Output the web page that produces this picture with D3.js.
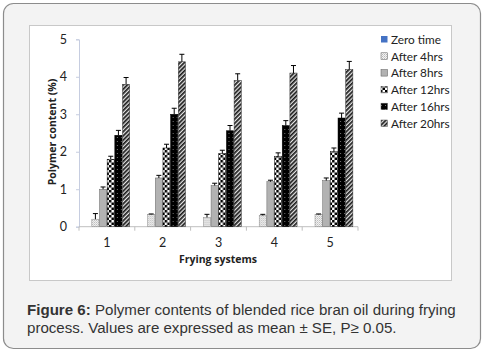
<!DOCTYPE html>
<html><head><meta charset="utf-8">
<script src="https://cdn.jsdelivr.net/npm/d3@7/dist/d3.min.js"></script>
<style>body{margin:0;background:#fff}svg{display:block}</style>
</head><body>
<svg id="c" width="490" height="356"></svg>
<script>
const categories = ["1","2","3","4","5"];
const seriesNames = ["Zero time","After 4hrs","After 8hrs","After 12hrs","After 16hrs","After 20hrs"];
const zeroTime  = [0,0,0,0,0];
const after4    = [0.20,0.33,0.25,0.30,0.33];
const after8    = [1.00,1.30,1.10,1.20,1.23];
const after12   = [1.80,2.10,1.95,1.88,2.00];
const after16   = [2.44,3.00,2.56,2.70,2.90];
const after20   = [3.80,4.40,3.90,4.10,4.20];
const err4      = [0.15,0.01,0.08,0.03,0.01];
const err8      = [0.06,0.07,0.06,0.04,0.07];
const err12     = [0.08,0.10,0.09,0.09,0.10];
const err16     = [0.13,0.16,0.14,0.13,0.13];
const err20     = [0.18,0.20,0.18,0.20,0.21];
const yTicks = [0,1,2,3,4,5];

const values = [zeroTime, after4, after8, after12, after16, after20];
const errors = [null, err4, err8, err12, err16, err20];
const fills = ["#4472c4","url(#p4)","url(#p8)","url(#p12)","url(#p16)","url(#p20)"];
const strokes = ["none","#888","#666","#000","#000","#333"];

const svg = d3.select("#c");
const defs = svg.append("defs");
let p = defs.append("pattern").attr("id","p4").attr("width",2).attr("height",2).attr("patternUnits","userSpaceOnUse");
p.append("rect").attr("width",2).attr("height",2).attr("fill","#f4f4f4");
p.append("rect").attr("width",1).attr("height",1).attr("fill","#b8b8b8");
p.append("rect").attr("x",1).attr("y",1).attr("width",1).attr("height",1).attr("fill","#d0d0d0");
p = defs.append("pattern").attr("id","p8").attr("width",4).attr("height",4).attr("patternUnits","userSpaceOnUse");
p.append("rect").attr("width",4).attr("height",4).attr("fill","#b2b2b2");
p = defs.append("pattern").attr("id","p12").attr("width",5).attr("height",5).attr("patternUnits","userSpaceOnUse");
p.append("rect").attr("width",5).attr("height",5).attr("fill","#fff");
p.append("rect").attr("width",2.5).attr("height",2.5).attr("fill","#000");
p.append("rect").attr("x",2.5).attr("y",2.5).attr("width",2.5).attr("height",2.5).attr("fill","#000");
p = defs.append("pattern").attr("id","p16").attr("width",4).attr("height",4).attr("patternUnits","userSpaceOnUse");
p.append("rect").attr("width",4).attr("height",4).attr("fill","#000");
p.append("rect").attr("x",1).attr("y",1).attr("width",1).attr("height",1).attr("fill","#777");
p = defs.append("pattern").attr("id","p20").attr("width",3).attr("height",3).attr("patternUnits","userSpaceOnUse").attr("patternTransform","rotate(45)");
p.append("rect").attr("width",3).attr("height",3).attr("fill","#e6e6e6");
p.append("rect").attr("width",1.7).attr("height",3).attr("fill","#1a1a1a");

svg.append("rect").attr("x",3.5).attr("y",3.5).attr("width",477).attr("height",345).attr("rx",10)
  .attr("fill","#f3f3f3").attr("stroke","#8c8c8c").attr("stroke-width",1.2);
svg.append("rect").attr("x",29.5).attr("y",25.5).attr("width",422).attr("height",255)
  .attr("fill","#fff").attr("stroke","#c8c8c8").attr("stroke-width",1);

const x0 = d3.scaleBand().domain(categories).range([79,358]).paddingInner(0.175).paddingOuter(0.0875);
const x1 = d3.scaleBand().domain(seriesNames).range([0,x0.bandwidth()]);
const y = d3.scaleLinear().domain([0,5]).range([226.7,39.3]);

const yAxis = d3.axisLeft(y).tickValues(yTicks).tickFormat(d3.format("d")).tickSize(3).tickPadding(9);
const gy = svg.append("g").attr("transform","translate(79,0)").call(yAxis);
gy.select(".domain").attr("stroke","#c6cde0");
gy.selectAll(".tick line").attr("stroke","#c6cde0");
gy.selectAll("text").attr("font-family","Lato, 'Open Sans', sans-serif").attr("font-size",12.5).attr("fill","#222");

const gx = svg.append("g").attr("transform",`translate(0,${y(0)})`);
gx.append("line").attr("x1",79).attr("x2",358).attr("stroke","#bfbfbf");
const step = x0.step();
gx.selectAll("line.tk").data(d3.range(categories.length+1)).join("line").attr("class","tk")
  .attr("x1",i=>79+i*step).attr("x2",i=>79+i*step).attr("y1",0).attr("y2",4).attr("stroke","#bfbfbf");
gx.selectAll("text").data(categories).join("text")
  .attr("x",d=>x0(d)+x0.bandwidth()/2).attr("y",20).attr("text-anchor","middle")
  .attr("font-family","Lato, 'Open Sans', sans-serif").attr("font-size",12.5).attr("fill","#222").text(d=>d);

categories.forEach((c,ci)=>{
  const g = svg.append("g").attr("transform",`translate(${x0(c)},0)`);
  seriesNames.forEach((s,si)=>{
    const v = values[si][ci];
    if (v <= 0) return;
    g.append("rect").attr("x",x1(s)+0.25).attr("width",x1.bandwidth()-0.5)
      .attr("y",y(v)).attr("height",y(0)-y(v))
      .attr("fill",fills[si]).attr("stroke",strokes[si]).attr("stroke-width",0.5);
    if (errors[si]) {
      const e = v + errors[si][ci];
      const cx = x1(s)+x1.bandwidth()/2;
      g.append("line").attr("x1",cx).attr("x2",cx).attr("y1",y(v)).attr("y2",y(e)).attr("stroke","#000").attr("stroke-width",1);
      g.append("line").attr("x1",cx-2.5).attr("x2",cx+2.5).attr("y1",y(e)).attr("y2",y(e)).attr("stroke","#000").attr("stroke-width",1);
    }
  });
});

svg.append("text").attr("x",218).attr("y",263).attr("text-anchor","middle")
  .attr("font-family","'Open Sans', Lato, sans-serif").attr("font-weight","bold").attr("font-size",10.5).attr("fill","#222")
  .text("Frying systems");
svg.append("text").attr("transform","translate(56,132) rotate(-90)").attr("text-anchor","middle")
  .attr("font-family","'Open Sans', Lato, sans-serif").attr("font-weight","bold").attr("font-size",10.5).attr("fill","#222")
  .text("Polymer content (%)");

const lg = svg.append("g");
seriesNames.forEach((s,i)=>{
  const yy = 39.5 + i*16.8;
  lg.append("rect").attr("x",381).attr("y",yy-3.5).attr("width",6.5).attr("height",6.5)
    .attr("fill",fills[i]).attr("stroke",i===0?"none":"#555").attr("stroke-width",0.5);
  lg.append("text").attr("x",391).attr("y",yy+4.2).attr("font-family","Lato, sans-serif").attr("font-size",11.8)
    .attr("fill","#222").text(s);
});

const cap = svg.append("text").attr("font-family","'Liberation Sans', Arial, sans-serif").attr("font-size",15.1).attr("fill","#333");
const l1 = cap.append("tspan").attr("x",27).attr("y",315);
l1.append("tspan").attr("font-weight","bold").text("Figure 6:");
l1.append("tspan").text(" Polymer contents of blended rice bran oil during frying");
cap.append("tspan").attr("x",27).attr("y",333).text("process. Values are expressed as mean ± SE, P≥ 0.05.");
</script>
</body></html>
